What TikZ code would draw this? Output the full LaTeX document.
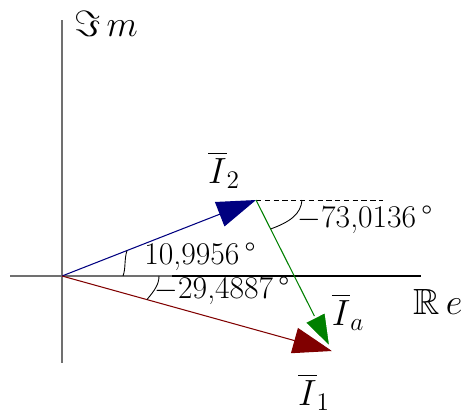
\documentclass[tikz,border=0pt]{standalone}
\usepackage{amssymb}
\usetikzlibrary{positioning,arrows.meta}
\definecolor{fazul}{HTML}{000080}
\definecolor{fvermelho}{HTML}{800000}
\definecolor{fverde}{HTML}{008000}
\definecolor{fcinza}{HTML}{707070}
\tikzset{
  fseta/.style={-{Triangle[length=7.8mm, width=5.2mm]}, line width=0.6pt},
  feixo/.style={draw=fcinza, line width=0.8pt},
  frotulo/.style={font=\huge, inner sep=0pt},
  fangulo/.style={font=\fontsize{18}{21}\selectfont, inner sep=0pt},
}
\begin{document}
\begin{tikzpicture}
        \useasboundingbox (-1.24,-2.78) rectangle (8.14,5.52);
        % eixos
        \coordinate (O) at (0,0);
        \draw[feixo] (0,5.12) -- (0,-1.74);
        \draw[feixo] (-1.04,0) -- (2.2,0);
        \draw[line width=0.6pt] (2.2,0) -- (7.18,0);
        \node[frotulo] (im) at (0.88,5.04) {$\Im\, m$};
        \node[frotulo] (re) at (7.52,-0.52) {$\mathbb{R}\, e$};
        % fasores
        \coordinate (I2) at (3.88,1.52);
        \coordinate (I1) at (5.4,-1.5);
        \coordinate (ref) at (6.42,1.52);
        \draw[dashed, dash pattern=on 3pt off 2pt, line width=0.5pt] (I2) -- (ref);
        \draw[fseta, fazul] (O) -- (I2);
        \draw[fseta, fvermelho] (O) -- (I1);
        \draw[line width=0.6pt, fverde, -{Triangle[length=7.8mm, width=5.2mm, color=white, fill=fverde, line width=1.2pt]}] (I2) -- (I1);
        \node[frotulo] (l2) at (3.24,2.12) {$\overline{I}_2$};
        \node[frotulo] (l1) at (5.04,-2.32) {$\overline{I}_1$};
        \node[frotulo] (la) at (5.72,-0.72) {$\overline{I}_a$};
        % angulos
        \draw[line width=0.5pt] (1.22,0) .. controls (1.28,0.16) and (1.24,0.32) .. (1.3,0.51);
        \draw[line width=0.5pt] (1.94,0) .. controls (1.94,-0.16) and (1.86,-0.28) .. (1.7,-0.47);
        \draw[line width=0.5pt] (4.8,1.52) .. controls (4.78,1.24) and (4.56,1.08) .. (4.17,0.94);
        \node[fangulo] (a2) at (2.76,0.38) {10,9956\,°};
        \node[fangulo] (a1) at (3.2,-0.3) {$-$29,4887\,°};
        \node[fangulo] (aa) at (6.06,1.12) {$-$73,0136\,°};
\end{tikzpicture}
\end{document}
